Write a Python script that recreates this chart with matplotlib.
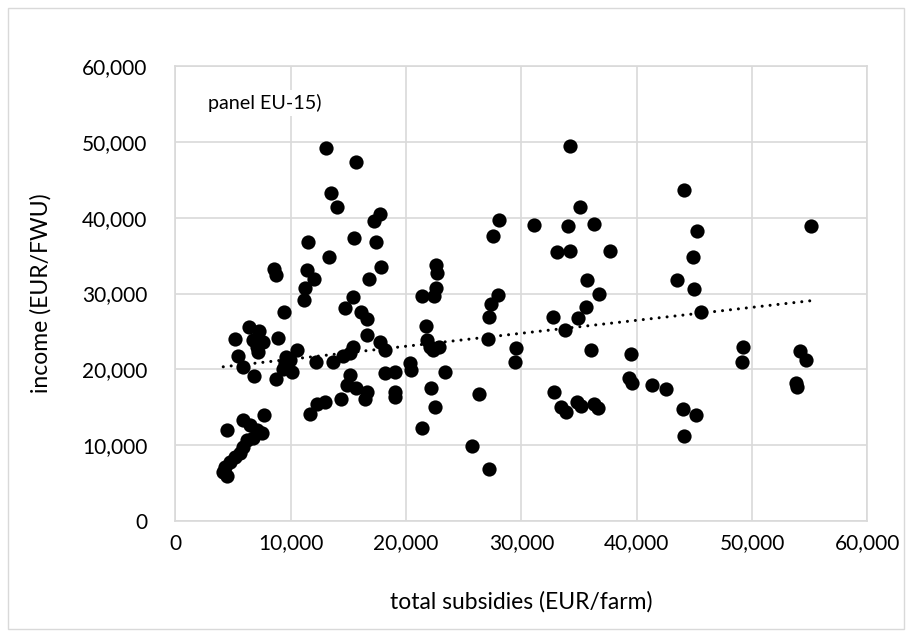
import matplotlib
matplotlib.use("Agg")
import matplotlib.pyplot as plt
from matplotlib.patches import Rectangle
from matplotlib.ticker import FuncFormatter, MultipleLocator
import numpy as np

# total subsidies (EUR/farm) and income (EUR/FWU)
subsidies = [
    13100, 15700, 13500, 14000, 17700, 17200, 11500, 15500, 17400, 13300,
    8550, 8700, 11400, 12000, 17800, 16800, 11200, 11150, 15400, 14700,
    9450, 16100, 16600, 22600, 22650, 22600, 21350, 22400, 21700, 21800,
    22100, 22350, 22850, 23400, 22200, 22500, 21350, 16600, 17750, 18200,
    15400, 15150, 14550, 13650, 12200, 10550, 15150, 14850, 15650, 16600,
    16450, 14400, 12950, 12300, 11700, 18200, 19050, 19000, 19050, 20350,
    20450, 6400, 7250, 5200, 8900, 6750, 7600, 7050, 7200, 5450,
    5900, 6800, 8750, 9600, 9500, 9300, 10150, 9900, 4500, 5900,
    7700, 6450, 7050, 7500, 6750, 6200, 5900, 5600, 5150, 4750,
    4300, 4150, 4450, 28100, 27500, 31100, 34000, 36300, 35050, 34250,
    33050, 34200, 37700, 35700, 36750, 35600, 32700, 34950, 28000, 27350,
    27150, 33750, 27100, 29550, 29450, 26350, 25700, 27150, 36000, 39500,
    39350, 39600, 32850, 33400, 33900, 34850, 35150, 36300, 36600, 41350,
    42500, 44000, 45150, 44100, 44100, 45200, 44900, 43500, 44950, 45550,
    55100, 49250, 49150, 54150, 54650, 53800, 53900,
]
income = [
    49200, 47400, 43200, 41400, 40500, 39600, 36800, 37300, 36800, 34800,
    33200, 32500, 33100, 31900, 33500, 31900, 30700, 29100, 29600, 28100,
    27500, 27600, 26700, 33700, 32700, 30700, 29700, 29700, 25700, 23900,
    22950, 22550, 22950, 19700, 17500, 15050, 12250, 24500, 23650, 22550,
    22950, 22100, 21800, 21000, 21000, 22500, 19250, 17950, 17500, 17050,
    16100, 16100, 15750, 15450, 14100, 19500, 19700, 17000, 16400, 20800,
    19900, 25600, 25050, 23950, 24100, 23900, 23650, 23000, 22350, 21750,
    20350, 19100, 18750, 21650, 20800, 20000, 19700, 21250, 12050, 13300,
    14000, 12650, 12000, 11550, 10900, 10700, 9800, 8950, 8400, 7800,
    7150, 6500, 5950, 39650, 37650, 39100, 38850, 39150, 41400, 49450,
    35450, 35600, 35650, 31800, 29900, 28250, 26900, 26800, 29800, 28600,
    26950, 25150, 23950, 22800, 21000, 16750, 9950, 6850, 22550, 22000,
    18800, 18150, 17050, 15100, 14400, 15750, 15200, 15400, 14950, 17950,
    17350, 14750, 14050, 11200, 43650, 38250, 34800, 31800, 30600, 27500,
    38900, 22900, 21000, 22400, 21250, 18150, 17650,
]

# linear trendline as shown on the chart (income = slope * subsidies + intercept)
trend_slope = 0.171
trend_intercept = 19630

panel_label = "panel EU-15)"
x_label = "total subsidies (EUR/farm)"
y_label = "income (EUR/FWU)"

plt.rcParams['font.family'] = ['Lato', 'DejaVu Sans']

fig = plt.figure(figsize=(9.12, 6.37), dpi=100)
ax = fig.add_axes([0.1923, 0.182, 0.7588, 0.7144])

# chart area border
fig.patches.append(Rectangle((0.009, 0.012), 0.982, 0.975, transform=fig.transFigure,
                             fill=False, edgecolor='#d9d9d9', linewidth=1))

ax.scatter(subsidies, income, s=105, color='black', zorder=3, linewidths=0)

x = np.array(subsidies)
xs = np.array([x.min(), x.max()])
ax.plot(xs, trend_slope * xs + trend_intercept, color='black', linewidth=2.2,
        linestyle=(0, (0.01, 2.6)), dash_capstyle='round', zorder=2)

ax.set_xlim(0, 60000)
ax.set_ylim(0, 60000)
ax.xaxis.set_major_locator(MultipleLocator(10000))
ax.yaxis.set_major_locator(MultipleLocator(10000))
fmt = FuncFormatter(lambda v, p: f"{int(v):,}")
ax.xaxis.set_major_formatter(fmt)
ax.yaxis.set_major_formatter(fmt)

ax.grid(True, color='#d9d9d9', linewidth=1.2, zorder=0)
ax.set_axisbelow(True)
for sp in ax.spines.values():
    sp.set_color('#d9d9d9')
    sp.set_linewidth(1.2)
ax.tick_params(length=0, labelsize=15, colors='#000000')
ax.tick_params(axis='y', pad=20)
ax.tick_params(axis='x', pad=9)

ax.set_xlabel(x_label, fontsize=16.5, labelpad=27)
ax.set_ylabel(y_label, fontsize=16.5, labelpad=22)

ax.text(0.047, 0.918, panel_label, transform=ax.transAxes, fontsize=14.2,
        ha='left', va='center', zorder=4,
        bbox=dict(facecolor='white', edgecolor='none', pad=3))

fig.savefig("out.png", dpi=100)
